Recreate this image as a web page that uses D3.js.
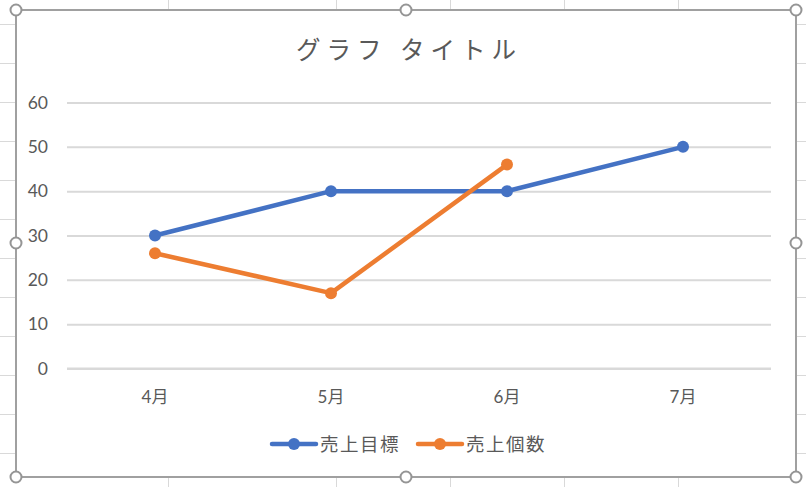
<!DOCTYPE html>
<html>
<head>
<meta charset="utf-8">
<script src="https://cdn.jsdelivr.net/npm/d3@7"></script>
<style>
  body { margin: 0; background: #fff; }
  svg { display: block; font-family: "Lato", "Noto Sans CJK JP", sans-serif; }
</style>
</head>
<body>
<svg id="chart" width="806" height="487"></svg>
<script>
const months = ['4月', '5月', '6月', '7月']
const targetSales = [30, 40, 40, 50]
const unitSales = [26, 17, 46]
const seriesNames = ['売上目標', '売上個数']
const seriesColors = ['#4472c4', '#ed7d31']
const yTicks = [0, 10, 20, 30, 40, 50, 60]
const sheetCols = [168, 336, 450, 564, 678]
const sheetRows = [24, 63, 102, 141, 180, 219, 258, 297, 336, 375, 414, 453]

const svg = d3.select('#chart')
const W = 806, H = 487
const frame = { x0: 16, y0: 10, x1: 796, y1: 477 }
const plot = { left: 67, right: 771, top: 102.5, bottom: 368.5 }

// spreadsheet grid behind the chart object
const sheet = svg.append('g').attr('stroke', '#d9d9d9').attr('stroke-width', 1)
sheet.selectAll('.col').data(sheetCols).enter().append('line')
    .attr('x1', d => d + 0.5).attr('x2', d => d + 0.5)
    .attr('y1', 0).attr('y2', H)
sheet.selectAll('.row').data(sheetRows).enter().append('line')
    .attr('x1', 0).attr('x2', W)
    .attr('y1', d => d + 0.5).attr('y2', d => d + 0.5)

// chart area
svg.append('rect')
    .attr('x', frame.x0).attr('y', frame.y0)
    .attr('width', frame.x1 - frame.x0).attr('height', frame.y1 - frame.y0)
    .attr('fill', '#fff')
    .attr('stroke', '#a0a0a0').attr('stroke-width', 2)

svg.append('text')
    .attr('x', 409).attr('y', 59)
    .attr('text-anchor', 'middle')
    .attr('font-size', 24.5)
    .attr('letter-spacing', 6)
    .attr('fill', '#595959')
    .text('グラフ タイトル')

const x = d3.scaleBand().domain(months).range([plot.left, plot.right])
const y = d3.scaleLinear().domain([0, 60]).range([plot.bottom, plot.top])

const yAxis = svg.append('g')
    .attr('transform', `translate(${plot.left},0)`)
    .call(d3.axisLeft(y).tickValues(yTicks).tickSize(-(plot.right - plot.left)).tickPadding(19))
yAxis.select('.domain').remove()
yAxis.selectAll('line').attr('stroke', '#d9d9d9').attr('stroke-width', 2)
yAxis.selectAll('text').attr('fill', '#595959').attr('font-size', 17.5)
    .attr('font-family', '"Lato", "Noto Sans CJK JP", sans-serif')

// bottom axis line (category axis)
svg.append('line')
    .attr('x1', plot.left).attr('x2', plot.right)
    .attr('y1', y(0)).attr('y2', y(0))
    .attr('stroke', '#d9d9d9').attr('stroke-width', 2)

svg.append('g').selectAll('text').data(months).enter().append('text')
    .attr('x', d => x(d) + x.bandwidth() / 2)
    .attr('y', 403)
    .attr('text-anchor', 'middle')
    .attr('font-size', 17)
    .attr('fill', '#595959')
    .text(d => d)

const series = [targetSales, unitSales]
const line = d3.line()
    .x((d, i) => x(months[i]) + x.bandwidth() / 2)
    .y(d => y(d))

series.forEach((vals, s) => {
    const g = svg.append('g')
    g.append('path')
        .attr('d', line(vals))
        .attr('fill', 'none')
        .attr('stroke', seriesColors[s])
        .attr('stroke-width', 4.5)
        .attr('stroke-linejoin', 'round')
    g.selectAll('circle').data(vals).enter().append('circle')
        .attr('cx', (d, i) => x(months[i]) + x.bandwidth() / 2)
        .attr('cy', d => y(d))
        .attr('r', 6)
        .attr('fill', seriesColors[s])
})

// legend
const legendX = [272, 418]
const legend = svg.append('g').selectAll('g').data(seriesNames).enter().append('g')
    .attr('transform', (d, i) => `translate(${legendX[i]},444)`)
legend.append('line')
    .attr('x1', 0).attr('x2', 44)
    .attr('stroke', (d, i) => seriesColors[i]).attr('stroke-width', 4.5)
    .attr('stroke-linecap', 'round')
legend.append('circle')
    .attr('cx', 22).attr('r', 6)
    .attr('fill', (d, i) => seriesColors[i])
legend.append('text')
    .attr('x', 48).attr('y', 7)
    .attr('font-size', 18.5)
    .attr('letter-spacing', 1.5)
    .attr('fill', '#595959')
    .text(d => d)

// selection handles
const handles = [
    [frame.x0, frame.y0], [406, frame.y0], [frame.x1, frame.y0],
    [frame.x0, 243], [frame.x1, 243],
    [frame.x0, frame.y1], [406, frame.y1], [frame.x1, frame.y1]
]
svg.append('g').selectAll('circle').data(handles).enter().append('circle')
    .attr('cx', d => d[0]).attr('cy', d => d[1]).attr('r', 5.5)
    .attr('fill', '#fff').attr('stroke', '#959595').attr('stroke-width', 2)
</script>
</body>
</html>
